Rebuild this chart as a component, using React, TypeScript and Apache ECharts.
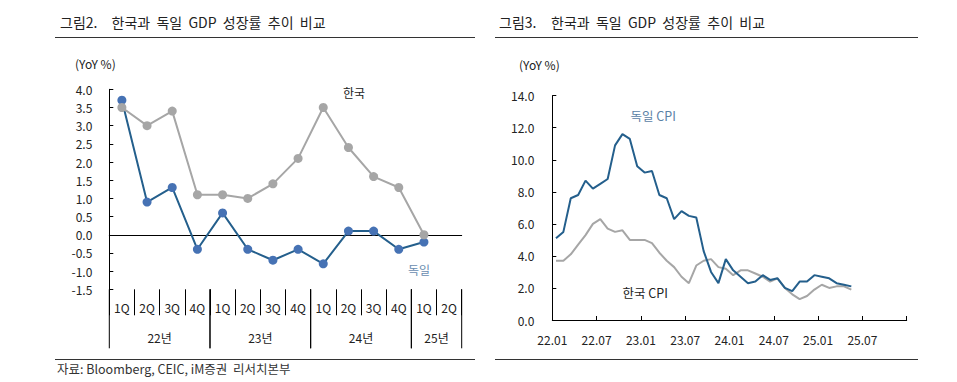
import React, { useEffect, useRef } from "react";
import * as echarts from "echarts";

// ---- Left chart: GDP growth (YoY %) ----
const quarters = ["1Q", "2Q", "3Q", "4Q", "1Q", "2Q", "3Q", "4Q", "1Q", "2Q", "3Q", "4Q", "1Q", "2Q"];
const yearLabels = ["22년", "23년", "24년", "25년"];
const yearSpans = [4, 4, 4, 2];
const koreaGDP = [3.5, 3.0, 3.4, 1.1, 1.1, 1.0, 1.4, 2.1, 3.5, 2.4, 1.6, 1.3, 0.0];
const germanyGDP = [3.7, 0.9, 1.3, -0.4, 0.6, -0.4, -0.7, -0.4, -0.8, 0.1, 0.1, -0.4, -0.2];

// ---- Right chart: CPI (YoY %), monthly from 22.01 ----
const monthTickLabels = ["22.01", "22.07", "23.01", "23.07", "24.01", "24.07", "25.01", "25.07"];
const germanyCPI = [5.1, 5.5, 7.6, 7.8, 8.7, 8.2, 8.5, 8.8, 10.9, 11.6, 11.3, 9.6, 9.2, 9.3, 7.8, 7.6, 6.3, 6.8, 6.5, 6.4, 4.3, 3.0, 2.3, 3.8, 3.1, 2.7, 2.3, 2.4, 2.8, 2.5, 2.6, 2.0, 1.8, 2.4, 2.4, 2.8, 2.7, 2.6, 2.3, 2.2, 2.1];
const koreaCPI = [3.7, 3.7, 4.1, 4.7, 5.3, 6.0, 6.3, 5.7, 5.5, 5.6, 5.0, 5.0, 5.0, 4.8, 4.2, 3.7, 3.3, 2.7, 2.3, 3.4, 3.7, 3.8, 3.3, 3.2, 2.8, 3.1, 3.1, 2.9, 2.7, 2.4, 2.6, 2.0, 1.6, 1.3, 1.5, 1.9, 2.2, 2.0, 2.1, 2.1, 1.9];

const FONT = "'Noto Sans CJK KR', 'Noto Sans', sans-serif";
const TXT = "#222";
const GRAY = "#A6A6A6";
const BLUE_LINE = "#245F8C";
const BLUE_DOT = "#4672B4";
const SP = "\u00a0\u00a0";
const TITLE_TEXT = ["한국과", "독일", "GDP", "성장률", "추이", "비교"].join(SP);

function txt(text: string, x: number, y: number, size: number, color = TXT, align = "left") {
  return {
    type: "text",
    x,
    y,
    silent: true,
    style: {
      text,
      fill: color,
      font: `${size}px ${FONT}`,
      align,
      verticalAlign: "middle",
      textAlign: align,
      textVerticalAlign: "middle",
    },
  };
}
function hline(x1: number, x2: number, y: number) {
  return { type: "line", silent: true, shape: { x1, y1: y, x2, y2: y }, style: { stroke: "#333", lineWidth: 1 } };
}

export default function App() {
  const ref = useRef<HTMLDivElement>(null);
  useEffect(() => {
    document.body.style.margin = "0";
    if (!ref.current) return;
    const chart = echarts.init(ref.current, null, { renderer: "svg" });

    const yearRanges: number[][] = [];
    let acc = 0;
    yearSpans.forEach((s) => {
      yearRanges.push([acc, acc + s]);
      acc += s;
    });

    const axisLabelStyle = { color: TXT, fontFamily: FONT, fontSize: 12 };

    const option: any = {
      animation: false,
      grid: [
        { left: 109.3, top: 89.3, width: 352.4, height: 200 },
        { left: 109.3, top: 289.3, width: 352.4, height: 59 },
        { left: 552.3, top: 95.7, width: 354.4, height: 224.3 },
      ],
      xAxis: [
        {
          gridIndex: 0,
          type: "category",
          data: quarters,
          position: "bottom",
          boundaryGap: true,
          axisLine: { onZero: true, lineStyle: { color: "#000", width: 1 } },
          axisTick: { inside: true, length: 4, lineStyle: { color: "#000" } },
          axisLabel: { show: false },
          splitLine: { show: false },
        },
        {
          gridIndex: 0,
          type: "category",
          data: quarters,
          position: "bottom",
          boundaryGap: true,
          axisLine: { show: false, onZero: false },
          axisTick: { show: true, inside: false, length: 26, lineStyle: { color: "#000" } },
          axisLabel: { ...axisLabelStyle, margin: 12, interval: 0 },
          splitLine: { show: false },
        },
        { gridIndex: 1, type: "value", min: 0, max: 14, show: false },
        {
          gridIndex: 2,
          type: "value",
          min: 0,
          max: 48,
          interval: 6,
          axisLine: { onZero: false, lineStyle: { color: "#000" } },
          axisTick: { inside: true, length: 4, lineStyle: { color: "#000" } },
          axisLabel: {
            ...axisLabelStyle,
            margin: 13,
            showMaxLabel: true,
            formatter: (v: number) => monthTickLabels[Math.round(v / 6)] ?? "",
          },
          splitLine: { show: false },
        },
      ],
      yAxis: [
        {
          gridIndex: 0,
          type: "value",
          min: -1.5,
          max: 4,
          interval: 0.5,
          axisLine: { show: true, lineStyle: { color: "#000" } },
          axisTick: { show: true, inside: true, length: 4, lineStyle: { color: "#000" } },
          axisLabel: { ...axisLabelStyle, margin: 17, formatter: (v: number) => v.toFixed(1) },
          splitLine: { show: false },
        },
        { gridIndex: 1, type: "value", min: 0, max: 1, show: false },
        {
          gridIndex: 2,
          type: "value",
          min: 0,
          max: 14,
          interval: 2,
          axisLine: { show: true, lineStyle: { color: "#000" } },
          axisTick: { show: true, inside: true, length: 4, lineStyle: { color: "#000" } },
          axisLabel: { ...axisLabelStyle, margin: 18, formatter: (v: number) => v.toFixed(1) },
          splitLine: { show: false },
        },
      ],
      series: [
        {
          name: "독일",
          type: "line",
          xAxisIndex: 0,
          yAxisIndex: 0,
          data: germanyGDP,
          symbol: "circle",
          symbolSize: 9,
          lineStyle: { color: BLUE_LINE, width: 2 },
          itemStyle: { color: BLUE_DOT },
          z: 3,
        },
        {
          name: "한국",
          type: "line",
          xAxisIndex: 0,
          yAxisIndex: 0,
          data: koreaGDP,
          symbol: "circle",
          symbolSize: 9,
          lineStyle: { color: GRAY, width: 2 },
          itemStyle: { color: GRAY },
          z: 4,
        },
        {
          type: "custom",
          xAxisIndex: 2,
          yAxisIndex: 1,
          silent: true,
          clip: false,
          data: yearRanges,
          renderItem: (params: any, api: any) => {
            const s = api.value(0);
            const e = api.value(1);
            const t0 = api.coord([s, 1]);
            const b0 = api.coord([s, 0]);
            const t1 = api.coord([e, 1]);
            const b1 = api.coord([e, 0]);
            const mid = api.coord([(s + e) / 2, 0.175]);
            return {
              type: "group",
              children: [
                { type: "line", shape: { x1: t0[0], y1: t0[1], x2: b0[0], y2: b0[1] }, style: { stroke: "#000", lineWidth: 1 } },
                { type: "line", shape: { x1: t1[0], y1: t1[1], x2: b1[0], y2: b1[1] }, style: { stroke: "#000", lineWidth: 1 } },
                {
                  type: "text",
                  x: mid[0],
                  y: mid[1],
                  style: {
                    text: yearLabels[params.dataIndex],
                    fill: TXT,
                    font: `12px ${FONT}`,
                    align: "center",
                    verticalAlign: "middle",
                  },
                },
              ],
            };
          },
        },
        {
          name: "한국 CPI",
          type: "line",
          xAxisIndex: 3,
          yAxisIndex: 2,
          data: koreaCPI.map((v, i) => [i + 0.5, v]),
          showSymbol: false,
          symbol: "none",
          lineStyle: { color: GRAY, width: 2 },
          z: 3,
        },
        {
          name: "독일 CPI",
          type: "line",
          xAxisIndex: 3,
          yAxisIndex: 2,
          data: germanyCPI.map((v, i) => [i + 0.5, v]),
          showSymbol: false,
          symbol: "none",
          lineStyle: { color: BLUE_LINE, width: 2 },
          z: 4,
        },
      ],
      graphic: [
        txt("그림2.", 60, 21.5, 14),
        txt(TITLE_TEXT, 111.5, 21.5, 14),
        hline(55, 475, 37.5),
        txt("그림3.", 499, 21.5, 14),
        txt(TITLE_TEXT, 551, 21.5, 14),
        hline(495, 918, 37.5),
        txt("(YoY %)", 75, 63.5, 12),
        txt("(YoY %)", 519, 64, 12),
        txt("한국", 343, 92.7, 12),
        txt("독일", 408, 269, 12, "#6A8DB0"),
        txt("독일 CPI", 630.5, 115, 12.5, "#5B82A6"),
        txt("한국 CPI", 622.5, 292.3, 12.5),
        hline(55, 475, 359.5),
        hline(495, 918, 359.5),
        txt("자료: Bloomberg, CEIC, iM증권\u00a0\u00a0리서치본부", 57, 368.5, 12.5, "#333"),
      ],
    };
    chart.setOption(option);
    return () => chart.dispose();
  }, []);
  return <div ref={ref} style={{ width: 957, height: 382 }} />;
}
